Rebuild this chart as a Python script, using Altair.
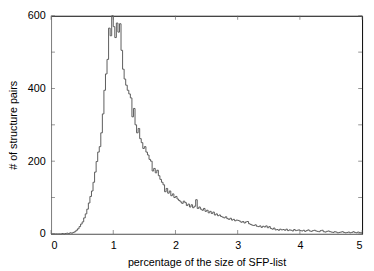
import altair as alt
import pandas as pd

# bin width 0.025, bins start at 0.0
bin_width = 0.025
counts = [
    0, 0, 0, 0, 0, 0, 0, 1, 0, 1,
    2, 1, 3, 2, 4, 6, 10, 14, 20, 27,
    33, 44, 55, 68, 85, 103, 118, 142, 170, 199,
    225, 240, 278, 330, 395, 440, 480, 566, 545, 600,
    570, 540, 580, 555, 578, 505, 453, 426, 409, 395,
    385, 374, 322, 345, 300, 278, 290, 262, 251, 235,
    240, 225, 217, 205, 200, 173, 180, 168, 175, 160,
    150, 142, 135, 116, 125, 112, 118, 105, 110, 100,
    103, 96, 92, 88, 84, 90, 86, 78, 82, 74,
    80, 72, 76, 94, 70, 74, 68, 65, 70, 62,
    65, 58, 62, 56, 60, 52, 55, 50, 52, 48,
    46, 44, 47, 42, 40, 43, 38, 40, 36, 38,
    37, 35, 32, 34, 30, 33, 34, 28, 26, 24,
    23, 25, 21, 20, 22, 18, 21, 19, 22, 17,
    20, 15, 13, 16, 11, 12, 10, 13, 11, 12,
    10, 13, 9, 11, 10, 8, 12, 9, 10, 11,
    9, 8, 10, 7, 9, 11, 8, 7, 9, 10,
    8, 7, 6, 9, 10, 6, 5, 7, 8, 6,
    5, 4, 6, 5, 3, 4, 5, 6, 4, 3,
    4, 5, 3, 4, 6, 4, 3, 5, 4, 3,
]
x_ticks = [0, 1, 2, 3, 4, 5]
y_ticks = [0, 100, 200, 300, 400, 500, 600]

edges = [round(i * bin_width, 4) for i in range(len(counts) + 1)]
df = pd.DataFrame({"x": edges, "y": counts + [counts[-1]]})

FONT = "Liberation Sans"
xs = alt.Scale(domain=[0, 5], nice=False)
ys = alt.Scale(domain=[0, 600], nice=False)

line = alt.Chart(df).mark_line(
    interpolate="step-after", color="#5a5a5a", strokeWidth=1
).encode(
    x=alt.X("x:Q", scale=xs,
            axis=alt.Axis(title="percentage of the size of SFP-list", values=x_ticks, format="d",
                          ticks=False, grid=False, domainColor="#888888",
                          labelPadding=6, titlePadding=6)),
    y=alt.Y("y:Q", scale=ys,
            axis=alt.Axis(title="# of structure pairs", values=y_ticks, format="d",
                          ticks=False, grid=False, domainColor="#888888",
                          labelPadding=6, titleX=-44, titleBaseline="top")),
)

xt = pd.DataFrame({"x": x_ticks})
yt = pd.DataFrame({"y": y_ticks})

bottom_ticks = alt.Chart(xt).mark_tick(orient="vertical", size=4, yOffset=-2, color="#666666", thickness=1).encode(
    x=alt.X("x:Q", scale=xs), y=alt.datum(0))
top_ticks = alt.Chart(xt).mark_tick(orient="vertical", size=4, yOffset=2, color="#666666", thickness=1).encode(
    x=alt.X("x:Q", scale=xs), y=alt.datum(600))
left_ticks = alt.Chart(yt).mark_tick(orient="horizontal", size=4, xOffset=2, color="#666666", thickness=1).encode(
    y=alt.Y("y:Q", scale=ys), x=alt.datum(0))
right_ticks = alt.Chart(yt).mark_tick(orient="horizontal", size=4, xOffset=-2, color="#666666", thickness=1).encode(
    y=alt.Y("y:Q", scale=ys), x=alt.datum(5))

chart = alt.layer(line, bottom_ticks, top_ticks, left_ticks, right_ticks).properties(
    width=318, height=223,
    background="white",
    autosize=alt.AutoSizeParams(type="none"),
    padding={"left": 44, "top": 5, "right": 4, "bottom": 35},
).configure_view(
    stroke="black", strokeWidth=1
).configure_axis(
    labelFont=FONT, titleFont=FONT, labelFontSize=11, titleFontSize=11,
    labelColor="black", titleColor="black", titleFontWeight="normal",
)

chart.save("out.html", embed_options={"renderer": "svg", "actions": False})
